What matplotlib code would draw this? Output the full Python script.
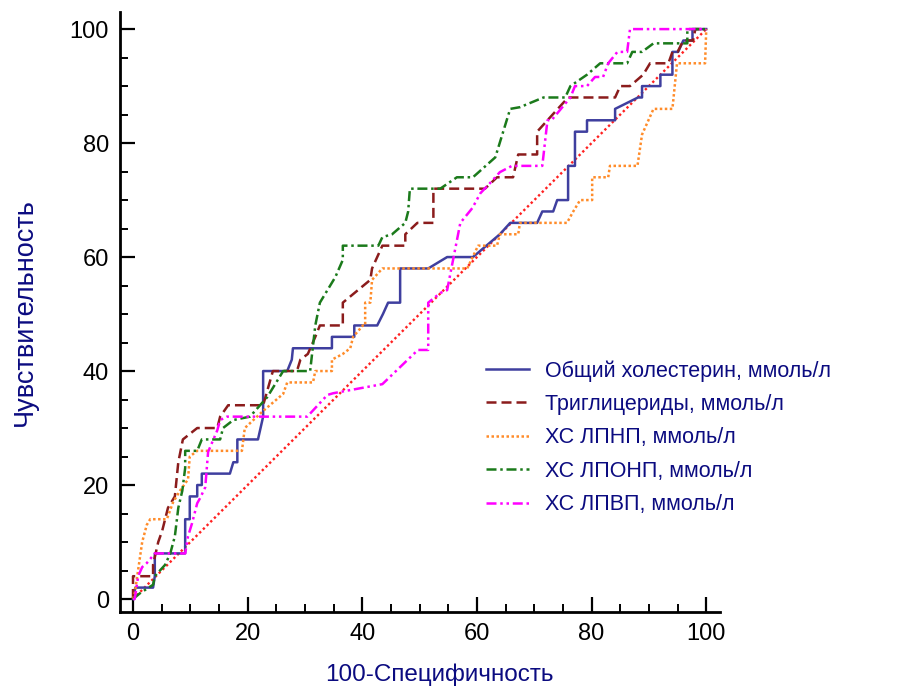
import matplotlib
matplotlib.use('Agg')
import matplotlib.pyplot as plt
from matplotlib.ticker import MultipleLocator

plt.rcParams['font.family'] = ['Liberation Sans', 'DejaVu Sans']

# ROC points (100-specificity, sensitivity)
chol_pts = [(0, 0), (0.4, 2), (3.5, 2), (3.8, 4), (3.8, 8), (9.1, 8), (9.1, 14), (9.9, 14), (9.9, 18),
            (11.2, 18), (11.2, 20), (12.0, 20), (12.0, 22), (16.9, 22), (17.5, 24), (18.2, 24), (18.2, 28),
            (21.8, 28), (22.7, 32), (22.7, 40), (26.9, 40), (27.7, 42), (27.9, 44), (34.7, 44), (34.7, 46),
            (38.6, 46), (38.6, 48), (42.6, 48), (43.6, 50), (44.5, 52), (46.6, 52), (46.6, 58), (51.5, 58),
            (54.8, 60), (59.3, 60), (64.0, 64), (65.8, 66), (70.5, 66), (71.4, 68), (73.3, 68), (74.0, 70),
            (75.9, 70), (75.9, 76), (77.1, 76), (77.1, 82), (79.2, 82), (79.2, 84), (84.1, 84), (84.1, 86),
            (88.1, 88), (88.8, 88), (88.8, 90), (92.0, 90), (92.0, 92), (94.1, 92), (94.1, 96), (95.1, 96),
            (96.0, 98), (97.6, 98), (97.6, 100), (100, 100)]

tg_pts = [(0, 0), (0, 4), (3.5, 4), (3.5, 6), (4.4, 10), (5.1, 12), (6.1, 16), (7.3, 18), (7.9, 24),
          (8.7, 28), (11.2, 30), (14.7, 30), (15.2, 32), (16.6, 34), (22.7, 34), (24.4, 40), (28.6, 40),
          (29.2, 42), (30.5, 43), (31.8, 46), (32.6, 48), (36.6, 48), (36.6, 52), (41.4, 56), (41.7, 58),
          (43.5, 62), (47.5, 62), (47.5, 64), (49.6, 66), (52.4, 66), (52.4, 72), (61.4, 72), (63.5, 74),
          (66.3, 74), (67.2, 78), (70.5, 78), (70.5, 82), (72.3, 84), (75.9, 88), (84.1, 88), (85.0, 90),
          (86.7, 90), (89.0, 92), (90.2, 94), (93.4, 94), (94.1, 96), (95.0, 96), (96.0, 98), (97.7, 98),
          (98.1, 100), (100, 100)]

ldl_pts = [(0, 0), (0.3, 1), (1.6, 10), (2.4, 13), (3.0, 14), (5.9, 14), (7.0, 17), (8.2, 19), (9.6, 21),
           (9.9, 25), (11.2, 26), (19.0, 26), (19.5, 30), (22.7, 33), (26.2, 36), (26.9, 38), (31.4, 38),
           (31.8, 40), (34.7, 40), (34.7, 42), (36.6, 43), (37.9, 44), (38.4, 46), (40.1, 48), (40.5, 48),
           (40.5, 52), (41.4, 52), (41.7, 56), (43.5, 58), (58.3, 58), (60.2, 62), (63.5, 62), (64.0, 64),
           (67.2, 64), (67.5, 66), (75.7, 66), (76.8, 68), (78.0, 70), (80.1, 70), (80.1, 74), (82.9, 74),
           (83.2, 76), (88.0, 76), (88.8, 81.5), (90.8, 86), (94.1, 86), (94.9, 94), (99.8, 94), (100, 100)]

vldl_pts = [(0, 0), (1.2, 1), (3.5, 2.5), (3.8, 4), (5.6, 6), (6.5, 8), (7.3, 11), (7.9, 16), (8.6, 19),
            (9.1, 23), (9.1, 26), (11.2, 26), (12.0, 28), (15.2, 28), (15.7, 30), (17.5, 31.4), (20.4, 32),
            (23.4, 35.4), (26.2, 40), (30.9, 40), (31.8, 48), (32.6, 52), (35.3, 56.5), (36.6, 59.5),
            (36.6, 62), (42.8, 62), (43.5, 63.5), (45.2, 64), (47.5, 66), (48.0, 68), (48.3, 72), (53.6, 72),
            (56.5, 74), (59.3, 74), (63.2, 77.5), (65.8, 86), (67.5, 86.3), (71.6, 88), (75.4, 88),
            (76.3, 90), (79.2, 92), (81.5, 94), (86.2, 94), (87.1, 96), (88.8, 96), (90.8, 97.5),
            (96.7, 97.5), (96.7, 100), (100, 100)]

hdl_pts = [(0, 0), (0.3, 0), (0.9, 4), (1.6, 5.6), (2.4, 6.3), (3.8, 8), (9.1, 8), (9.6, 11), (10.3, 13.3),
           (11.2, 16.8), (11.7, 17.7), (12.6, 19.6), (13.1, 25.8), (14.7, 29.6), (15.2, 31.4), (16.4, 32),
           (30.4, 32), (33.9, 35.8), (34.9, 36.1), (43.5, 37.7), (49.7, 43.7), (51.5, 43.7), (51.5, 52),
           (53.6, 53.7), (54.8, 54.2), (57.1, 66), (59.2, 68.6), (60.6, 71.2), (62.3, 73), (64.0, 74.9),
           (66.1, 76), (71.4, 76), (72.3, 84), (73.0, 84), (76.3, 88), (77.1, 90), (79.2, 90), (80.6, 91.6),
           (82.0, 91.6), (82.9, 94), (84.5, 96), (86.2, 96), (86.7, 100), (100, 100)]

diag = [0, 100]

series = [
    ("Общий холестерин, ммоль/л", chol_pts, "#3f3f9f", "-"),
    ("Триглицериды, ммоль/л", tg_pts, "#8b1c1c", (0, (4, 2))),
    ("ХС ЛПНП, ммоль/л", ldl_pts, "#ff8c2a", (0, (1, 1))),
    ("ХС ЛПОНП, ммоль/л", vldl_pts, "#1b7a1b", (0, (4, 1.5, 1, 1.5))),
    ("ХС ЛПВП, ммоль/л", hdl_pts, "#ff00ff", (0, (4, 1.5, 1, 1.5, 1, 1.5))),
]

fig = plt.figure(figsize=(9.07, 6.89), dpi=100)
ax = fig.add_axes([120 / 907, 1 - 612 / 689, 600 / 907, 600 / 689])

ax.plot(diag, diag, color="#ff2020", linestyle=(0, (1, 1.2)), linewidth=1.7, zorder=1)

for label, pts, color, ls in series:
    xs = [p[0] for p in pts]
    ys = [p[1] for p in pts]
    ax.plot(xs, ys, color=color, linestyle=ls, linewidth=1.8, label=label, zorder=2)

ax.set_xlim(-2.27, 102.4)
ax.set_ylim(-2.28, 103.0)
ax.spines['top'].set_visible(False)
ax.spines['right'].set_visible(False)
ax.spines['left'].set_linewidth(2)
ax.spines['bottom'].set_linewidth(2)

ax.xaxis.set_major_locator(MultipleLocator(20))
ax.yaxis.set_major_locator(MultipleLocator(20))
ax.xaxis.set_minor_locator(MultipleLocator(5))
ax.yaxis.set_minor_locator(MultipleLocator(5))
ax.tick_params(which='major', direction='in', length=11, width=1.6, labelsize=17, pad=8)
ax.tick_params(which='minor', direction='in', length=6, width=1.4)
ax.set_xticks([0, 20, 40, 60, 80, 100])
ax.set_yticks([0, 20, 40, 60, 80, 100])

ax.set_xlabel("100-Специфичность", fontsize=17.5, color="#0b0b80", labelpad=15)
ax.xaxis.set_label_coords(0.532, -0.085)
ax.set_ylabel("Чувствительность", fontsize=19.5, color="#0b0b80", labelpad=23)

leg = ax.legend(loc='upper left', bbox_to_anchor=(0.61, 0.42), frameon=False, fontsize=15.5,
                handlelength=2.0, handletextpad=0.75, labelspacing=0.58, borderpad=0, borderaxespad=0)
for t in leg.get_texts():
    t.set_color("#0b0b80")

fig.savefig("out.png", dpi=100)
